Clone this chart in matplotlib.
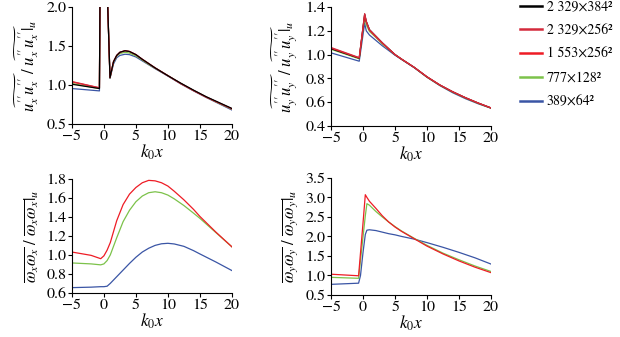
import matplotlib
matplotlib.use("Agg")
import matplotlib.pyplot as plt
from matplotlib.lines import Line2D

plt.rcParams['font.family'] = ['STIXGeneral', 'DejaVu Serif']
plt.rcParams['mathtext.fontset'] = 'stix'

# --- colours / legend labels ---
c_black = "#000000"
c_red1 = "#d42a3c"
c_red2 = "#ee1c25"
c_green = "#7cc24a"
c_blue = "#3a55a5"
labels = ["2 329×384²", "2 329×256²", "1 553×256²", "777×128²", "389×64²"]

# --- top left: u''x u''x ---
x_tl = [-5, -0.7, -0.55, 0.5, 0.6, 0.95, 1.5, 2, 2.5, 3.3, 4, 5, 6, 7, 8, 10, 12, 14, 16, 18, 20]
tl_black = [1.01, 0.955, 3.0, 3.0, 2.0, 1.095, 1.30, 1.38, 1.42, 1.44, 1.43, 1.39, 1.33, 1.275, 1.22, 1.12, 1.025, 0.935, 0.85, 0.775, 0.70]
tl_red1 = [1.045, 0.965, 3.0, 3.0, 2.0, 1.095, 1.30, 1.38, 1.42, 1.44, 1.43, 1.39, 1.33, 1.275, 1.22, 1.12, 1.02, 0.93, 0.845, 0.77, 0.695]
tl_red2 = [1.04, 0.963, 3.0, 3.0, 2.0, 1.095, 1.30, 1.38, 1.42, 1.44, 1.43, 1.39, 1.33, 1.275, 1.22, 1.12, 1.02, 0.93, 0.845, 0.77, 0.695]
tl_green = [1.02, 0.955, 3.0, 3.0, 2.0, 1.09, 1.29, 1.37, 1.405, 1.42, 1.41, 1.375, 1.32, 1.265, 1.215, 1.12, 1.02, 0.93, 0.845, 0.765, 0.69]
tl_blue = [0.955, 0.925, 3.0, 3.0, 2.0, 1.085, 1.27, 1.35, 1.38, 1.395, 1.39, 1.36, 1.31, 1.26, 1.21, 1.115, 1.015, 0.925, 0.84, 0.76, 0.68]

# --- top right: u''y u''y ---
x_tr = [-5, -0.6, 0.25, 0.5, 1, 2, 3, 4, 5, 6, 7, 8, 10, 12, 14, 16, 18, 20]
tr_black = [1.05, 0.97, 1.34, 1.28, 1.21, 1.155, 1.10, 1.05, 1.0, 0.963, 0.928, 0.893, 0.813, 0.745, 0.688, 0.638, 0.593, 0.552]
tr_red1 = [1.06, 0.975, 1.345, 1.28, 1.21, 1.155, 1.10, 1.05, 1.0, 0.963, 0.928, 0.893, 0.813, 0.745, 0.688, 0.638, 0.593, 0.552]
tr_red2 = [1.055, 0.972, 1.335, 1.275, 1.205, 1.15, 1.097, 1.048, 1.0, 0.963, 0.928, 0.893, 0.813, 0.745, 0.688, 0.638, 0.593, 0.552]
tr_green = [1.045, 0.965, 1.32, 1.25, 1.195, 1.145, 1.09, 1.045, 1.0, 0.962, 0.927, 0.892, 0.81, 0.742, 0.685, 0.635, 0.59, 0.55]
tr_blue = [1.015, 0.945, 1.265, 1.2, 1.165, 1.12, 1.075, 1.035, 0.995, 0.96, 0.925, 0.89, 0.81, 0.74, 0.68, 0.63, 0.587, 0.55]

# --- bottom left: wx wx ---
x_bl = [-5, -2, -0.5, 0, 0.5, 1, 2, 3, 4, 5, 6, 7, 8, 9, 10, 11, 12.5, 14, 15, 17.5, 20]
bl_red = [1.03, 0.995, 0.96, 0.99, 1.05, 1.13, 1.36, 1.53, 1.64, 1.71, 1.76, 1.785, 1.78, 1.76, 1.725, 1.67, 1.58, 1.48, 1.405, 1.24, 1.085]
bl_green = [0.915, 0.905, 0.895, 0.905, 0.94, 1.0, 1.18, 1.35, 1.47, 1.56, 1.62, 1.655, 1.665, 1.655, 1.63, 1.59, 1.52, 1.44, 1.385, 1.235, 1.085]
bl_blue = [0.655, 0.66, 0.665, 0.665, 0.67, 0.70, 0.77, 0.84, 0.91, 0.975, 1.03, 1.07, 1.10, 1.117, 1.122, 1.115, 1.09, 1.045, 1.01, 0.925, 0.835]

# --- bottom right: wy wy ---
x_br = [-5, -0.7, -0.4, 0, 0.35, 0.6, 1, 2, 3, 4, 5, 6, 8, 10, 12.5, 15, 17.5, 20]
br_red = [1.03, 0.99, 1.58, 2.36, 3.07, 3.0, 2.9, 2.72, 2.53, 2.37, 2.24, 2.13, 1.94, 1.75, 1.55, 1.37, 1.21, 1.07]
br_green = [0.95, 0.925, 1.39, 2.0, 2.53, 2.84, 2.8, 2.64, 2.5, 2.37, 2.25, 2.14, 1.95, 1.77, 1.57, 1.40, 1.24, 1.10]
br_blue = [0.77, 0.80, 1.0, 1.6, 2.05, 2.16, 2.17, 2.15, 2.11, 2.07, 2.04, 2.0, 1.93, 1.84, 1.72, 1.59, 1.45, 1.29]

fig = plt.figure(figsize=(6.2, 3.37), dpi=100)
ax_tl = fig.add_axes([0.116, 0.632, 0.258, 0.347])
ax_tr = fig.add_axes([0.534, 0.626, 0.258, 0.353])
ax_bl = fig.add_axes([0.116, 0.131, 0.258, 0.338])
ax_br = fig.add_axes([0.534, 0.125, 0.258, 0.347])

lw = 0.9
ax_tl.plot(x_tl, tl_blue, color=c_blue, lw=lw)
ax_tl.plot(x_tl, tl_green, color=c_green, lw=lw)
ax_tl.plot(x_tl, tl_red2, color=c_red2, lw=lw)
ax_tl.plot(x_tl, tl_red1, color=c_red1, lw=lw)
ax_tl.plot(x_tl, tl_black, color=c_black, lw=lw)

ax_tr.plot(x_tr, tr_blue, color=c_blue, lw=lw)
ax_tr.plot(x_tr, tr_green, color=c_green, lw=lw)
ax_tr.plot(x_tr, tr_black, color=c_black, lw=lw)
ax_tr.plot(x_tr, tr_red2, color=c_red2, lw=lw)
ax_tr.plot(x_tr, tr_red1, color=c_red1, lw=lw)

ax_bl.plot(x_bl, bl_blue, color=c_blue, lw=lw)
ax_bl.plot(x_bl, bl_green, color=c_green, lw=lw)
ax_bl.plot(x_bl, bl_red, color=c_red2, lw=lw)

ax_br.plot(x_br, br_blue, color=c_blue, lw=lw)
ax_br.plot(x_br, br_green, color=c_green, lw=lw)
ax_br.plot(x_br, br_red, color=c_red2, lw=lw)

# --- axes styling ---
ax_tl.set_ylim(0.5, 2.0)
ax_tl.set_yticks([0.5, 1.0, 1.5, 2.0])
ax_tr.set_ylim(0.4, 1.4)
ax_tr.set_yticks([0.4, 0.6, 0.8, 1.0, 1.2, 1.4])
ax_bl.set_ylim(0.6, 1.8)
ax_bl.set_yticks([0.6, 0.8, 1.0, 1.2, 1.4, 1.6, 1.8])
ax_br.set_ylim(0.5, 3.5)
ax_br.set_yticks([0.5, 1.0, 1.5, 2.0, 2.5, 3.0, 3.5])

ax_tl.set_ylabel(r"$\widetilde{u^{\prime\prime}_x u^{\prime\prime}_x}\ /\ \widetilde{u^{\prime\prime}_x u^{\prime\prime}_x}|_u$", fontsize=12, labelpad=4)
ax_tr.set_ylabel(r"$\widetilde{u^{\prime\prime}_y u^{\prime\prime}_y}\ /\ \widetilde{u^{\prime\prime}_y u^{\prime\prime}_y}|_u$", fontsize=12, labelpad=4)
ax_bl.set_ylabel(r"$\overline{\omega_x \omega_x}\ /\ \overline{\omega_x \omega_x}|_u$", fontsize=12, labelpad=4)
ax_br.set_ylabel(r"$\overline{\omega_y \omega_y}\ /\ \overline{\omega_y \omega_y}|_u$", fontsize=12, labelpad=4)

for ax in [ax_tl, ax_tr, ax_bl, ax_br]:
    ax.set_xlim(-5, 20)
    ax.set_xticks([-5, 0, 5, 10, 15, 20])
    ax.set_xlabel(r"$k_0x$", fontsize=12.5, labelpad=0)
    ax.spines['top'].set_visible(False)
    ax.spines['right'].set_visible(False)
    ax.spines['left'].set_linewidth(0.8)
    ax.spines['bottom'].set_linewidth(0.8)
    ax.tick_params(direction='out', length=3, width=0.8, labelsize=11.5, pad=1)
    ax.yaxis.set_major_formatter(matplotlib.ticker.FormatStrFormatter('%.1f'))

# --- legend ---
handles = [Line2D([], [], color=c, lw=1.8) for c in [c_black, c_red1, c_red2, c_green, c_blue]]
fig.legend(handles, labels, loc='upper left', bbox_to_anchor=(0.838, 1.0), frameon=False,
           fontsize=10, handlelength=1.6, handletextpad=0.35, labelspacing=0.75,
           borderpad=0, borderaxespad=0)

plt.savefig("out.png", dpi=100)
